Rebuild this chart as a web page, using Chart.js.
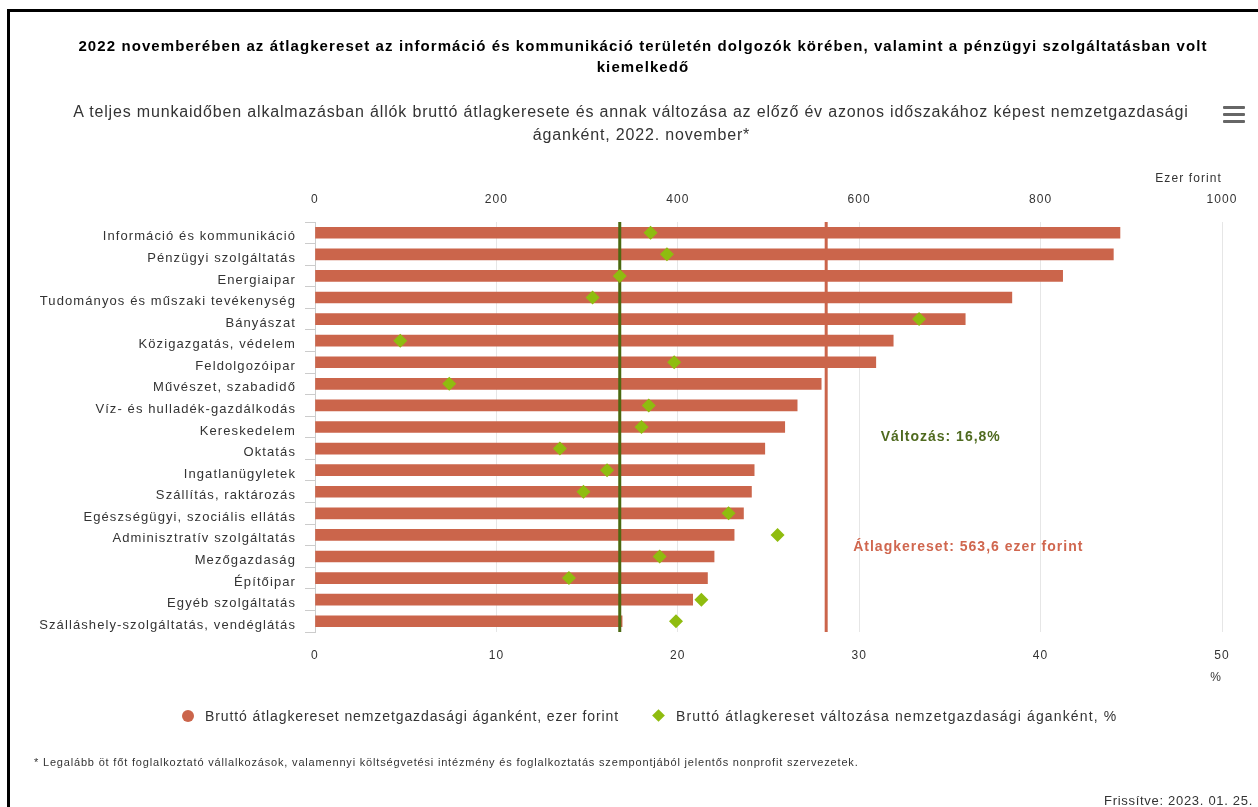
<!DOCTYPE html>
<html lang="hu">
<head>
<meta charset="utf-8">
<title>Bruttó átlagkereset nemzetgazdasági áganként</title>
<script src="https://cdn.jsdelivr.net/npm/chart.js@4.4.1/dist/chart.umd.min.js"></script>
<style>
  body { margin: 0; width: 1258px; height: 807px; overflow: hidden; background: #fff;
         font-family: 'Liberation Sans', Arial, sans-serif; position: relative; }
  .frame { position: absolute; left: 7px; top: 9px; width: 1400px; height: 1000px; border: 3px solid #000; }
  .txt { position: absolute; white-space: nowrap; }
  .title { font-size: 15px; font-weight: bold; color: #000; line-height: 21px; text-align: center;
           left: 23px; width: 1240px; top: 35px; letter-spacing: 1.09px; }
  .sub { font-size: 16px; color: #333; line-height: 20px; text-align: center; letter-spacing: 0.83px; }
  .menu { position: absolute; left: 1223px; width: 22px; height: 3px; background: #666; border-radius: 1px; }
  .legend { font-size: 14px; color: #333; line-height: 16px; letter-spacing: 0.9px; }
  .dot { position: absolute; width: 12px; height: 12px; border-radius: 50%; background: #cb654b; }
  .dia { position: absolute; width: 9px; height: 9px; background: #8fbc0f; transform: rotate(45deg); }
  .note { font-size: 11px; color: #333; line-height: 14px; letter-spacing: 0.82px; }
  canvas { position: absolute; left: 0; top: 0; }
</style>
</head>
<body>
<div class="frame"></div>
<canvas id="wageChart" width="1258" height="807"></canvas>

<div class="txt title">2022 novemberében az átlagkereset az információ és kommunikáció területén dolgozók körében, valamint a pénzügyi szolgáltatásban volt<br>kiemelkedő</div>
<div class="txt sub" style="left:0; width:1262px; top:102px;">A teljes munkaidőben alkalmazásban állók bruttó átlagkeresete és annak változása az előző év azonos időszakához képest nemzetgazdasági</div>
<div class="txt sub" style="left:0; width:1283px; top:125px;">áganként, 2022. november*</div>

<div class="menu" style="top:106px"></div>
<div class="menu" style="top:113px"></div>
<div class="menu" style="top:120px"></div>

<div class="dot" style="left:182px; top:710px;"></div>
<div class="txt legend" style="left:205px; top:708px;">Bruttó átlagkereset nemzetgazdasági áganként, ezer forint</div>
<div class="dia" style="left:654px; top:711px;"></div>
<div class="txt legend" style="left:676px; top:708px; letter-spacing:1.15px;">Bruttó átlagkereset változása nemzetgazdasági áganként, %</div>

<div class="txt note" style="left:34px; top:755px;">* Legalább öt főt foglalkoztató vállalkozások, valamennyi költségvetési intézmény és foglalkoztatás szempontjából jelentős nonprofit szervezetek.</div>
<div class="txt note" style="left:1104px; top:794px; font-size:13px; letter-spacing:0.7px;">Frissítve: 2023. 01. 25.</div>

<script>
// Adatok: nemzetgazdasági ágak, bruttó átlagkereset (ezer Ft) és változás (%)
const categories = [
    'Információ és kommunikáció',
    'Pénzügyi szolgáltatás',
    'Energiaipar',
    'Tudományos és műszaki tevékenység',
    'Bányászat',
    'Közigazgatás, védelem',
    'Feldolgozóipar',
    'Művészet, szabadidő',
    'Víz- és hulladék-gazdálkodás',
    'Kereskedelem',
    'Oktatás',
    'Ingatlanügyletek',
    'Szállítás, raktározás',
    'Egészségügyi, szociális ellátás',
    'Adminisztratív szolgáltatás',
    'Mezőgazdaság',
    'Építőipar',
    'Egyéb szolgáltatás',
    'Szálláshely-szolgáltatás, vendéglátás'
];
const wageValues = [887.5, 880.2, 824.3, 768.3, 716.9, 637.5, 618.3, 558.1, 531.6, 517.9,
                    495.9, 484.2, 481.2, 472.4, 462.1, 440.0, 432.7, 416.4, 338.6];
const changeValues = [18.5, 19.4, 16.8, 15.3, 33.3, 4.7, 19.8, 7.4, 18.4, 18.0,
                      13.5, 16.1, 14.8, 22.8, 25.5, 19.0, 14.0, 21.3, 19.9];
const wageTicks = [0, 200, 400, 600, 800, 1000];
const changeTicks = [0, 10, 20, 30, 40, 50];
const avgWage = 563.6;   // ezer forint
const avgChange = 16.8;  // %

const barColor = '#cb654b';
const diamondColor = '#8fbc0f';
const changeLineColor = '#4b6a12';

Chart.defaults.font.family = "'Liberation Sans', Arial, sans-serif";

// a kicsit ritkított betűközt a vászon szövegeire is
const spacing = {
    id: 'spacing',
    beforeDraw(chart) { chart.ctx.letterSpacing = '1.1px'; }
};

// Átlag vonalak: az oszlopok után, a rombuszok alá rajzolva
const plotLines = {
    id: 'plotLines',
    afterDatasetDraw(chart, args) {
        if (args.meta.type !== 'bar') return;
        const { ctx, chartArea } = chart;
        const xWage = chart.scales.x.getPixelForValue(avgWage);
        const xChange = chart.scales.x2.getPixelForValue(avgChange);
        ctx.save();
        ctx.lineWidth = 3;
        ctx.strokeStyle = barColor;
        ctx.beginPath();
        ctx.moveTo(xWage, chartArea.top);
        ctx.lineTo(xWage, chartArea.bottom);
        ctx.stroke();
        ctx.strokeStyle = changeLineColor;
        ctx.beginPath();
        ctx.moveTo(xChange, chartArea.top);
        ctx.lineTo(xChange, chartArea.bottom);
        ctx.stroke();

        ctx.letterSpacing = '1px';
        ctx.font = "bold 14px 'Liberation Sans', Arial, sans-serif";
        ctx.textBaseline = 'middle';
        ctx.textAlign = 'left';
        ctx.fillStyle = '#4f6a1f';
        ctx.fillText('Változás: ' + avgChange.toFixed(1).replace('.', ',') + '%', xChange + 261, chartArea.top + 215);
        ctx.fillStyle = '#d0674f';
        ctx.fillText('Átlagkereset: ' + avgWage.toFixed(1).replace('.', ',') + ' ezer forint', xWage + 27, chartArea.top + 325);
        ctx.restore();
    }
};

new Chart(document.getElementById('wageChart'), {
    type: 'bar',
    data: {
        labels: categories,
        datasets: [
            {
                type: 'bar',
                label: 'Bruttó átlagkereset nemzetgazdasági áganként, ezer forint',
                data: wageValues,
                backgroundColor: barColor,
                barThickness: 11,
                xAxisID: 'x',
                yAxisID: 'y',
                order: 2
            },
            {
                type: 'line',
                label: 'Bruttó átlagkereset változása nemzetgazdasági áganként, %',
                data: changeValues,
                showLine: false,
                pointStyle: 'rectRot',
                pointRadius: 7,
                pointBorderWidth: 0,
                pointBackgroundColor: diamondColor,
                pointBorderColor: diamondColor,
                xAxisID: 'x2',
                yAxisID: 'y',
                order: 1
            }
        ]
    },
    options: {
        indexAxis: 'y',
        responsive: false,
        animation: false,
        layout: { padding: { left: 0, top: 0, right: 36, bottom: 0 } },
        plugins: {
            legend: { display: false },
            tooltip: { enabled: false }
        },
        scales: {
            y: {
                type: 'category',
                position: 'left',
                afterFit: s => { s.width = 315; },
                grid: { drawOnChartArea: false, drawTicks: true, tickLength: 10, offset: true, color: '#cccccc' },
                border: { display: true, color: '#cccccc' },
                ticks: { padding: 9, labelOffset: 4, color: '#333', font: { size: 13 }, autoSkip: false }
            },
            x: {
                position: 'top',
                min: wageTicks[0],
                max: wageTicks[wageTicks.length - 1],
                afterFit: s => { s.height = 222; },
                afterBuildTicks: s => { s.ticks = wageTicks.map(v => ({ value: v })); },
                grid: { color: '#e6e6e6', drawTicks: false },
                border: { display: false },
                ticks: { padding: 15, color: '#333', font: { size: 12 }, callback: v => String(v) },
                title: { display: true, text: 'Ezer forint', align: 'end', color: '#333',
                         font: { size: 12 }, padding: { top: 171, bottom: 0 } }
            },
            x2: {
                position: 'bottom',
                min: changeTicks[0],
                max: changeTicks[changeTicks.length - 1],
                afterFit: s => { s.height = 175; },
                afterBuildTicks: s => { s.ticks = changeTicks.map(v => ({ value: v })); },
                grid: { display: false },
                border: { display: false },
                ticks: { padding: 8, color: '#333', font: { size: 12 }, callback: v => String(v) },
                title: { display: true, text: '%', align: 'end', color: '#333',
                         font: { size: 12 }, padding: { top: 0, bottom: 122 } }
            }
        }
    },
    plugins: [spacing, plotLines]
});
</script>
</body>
</html>
